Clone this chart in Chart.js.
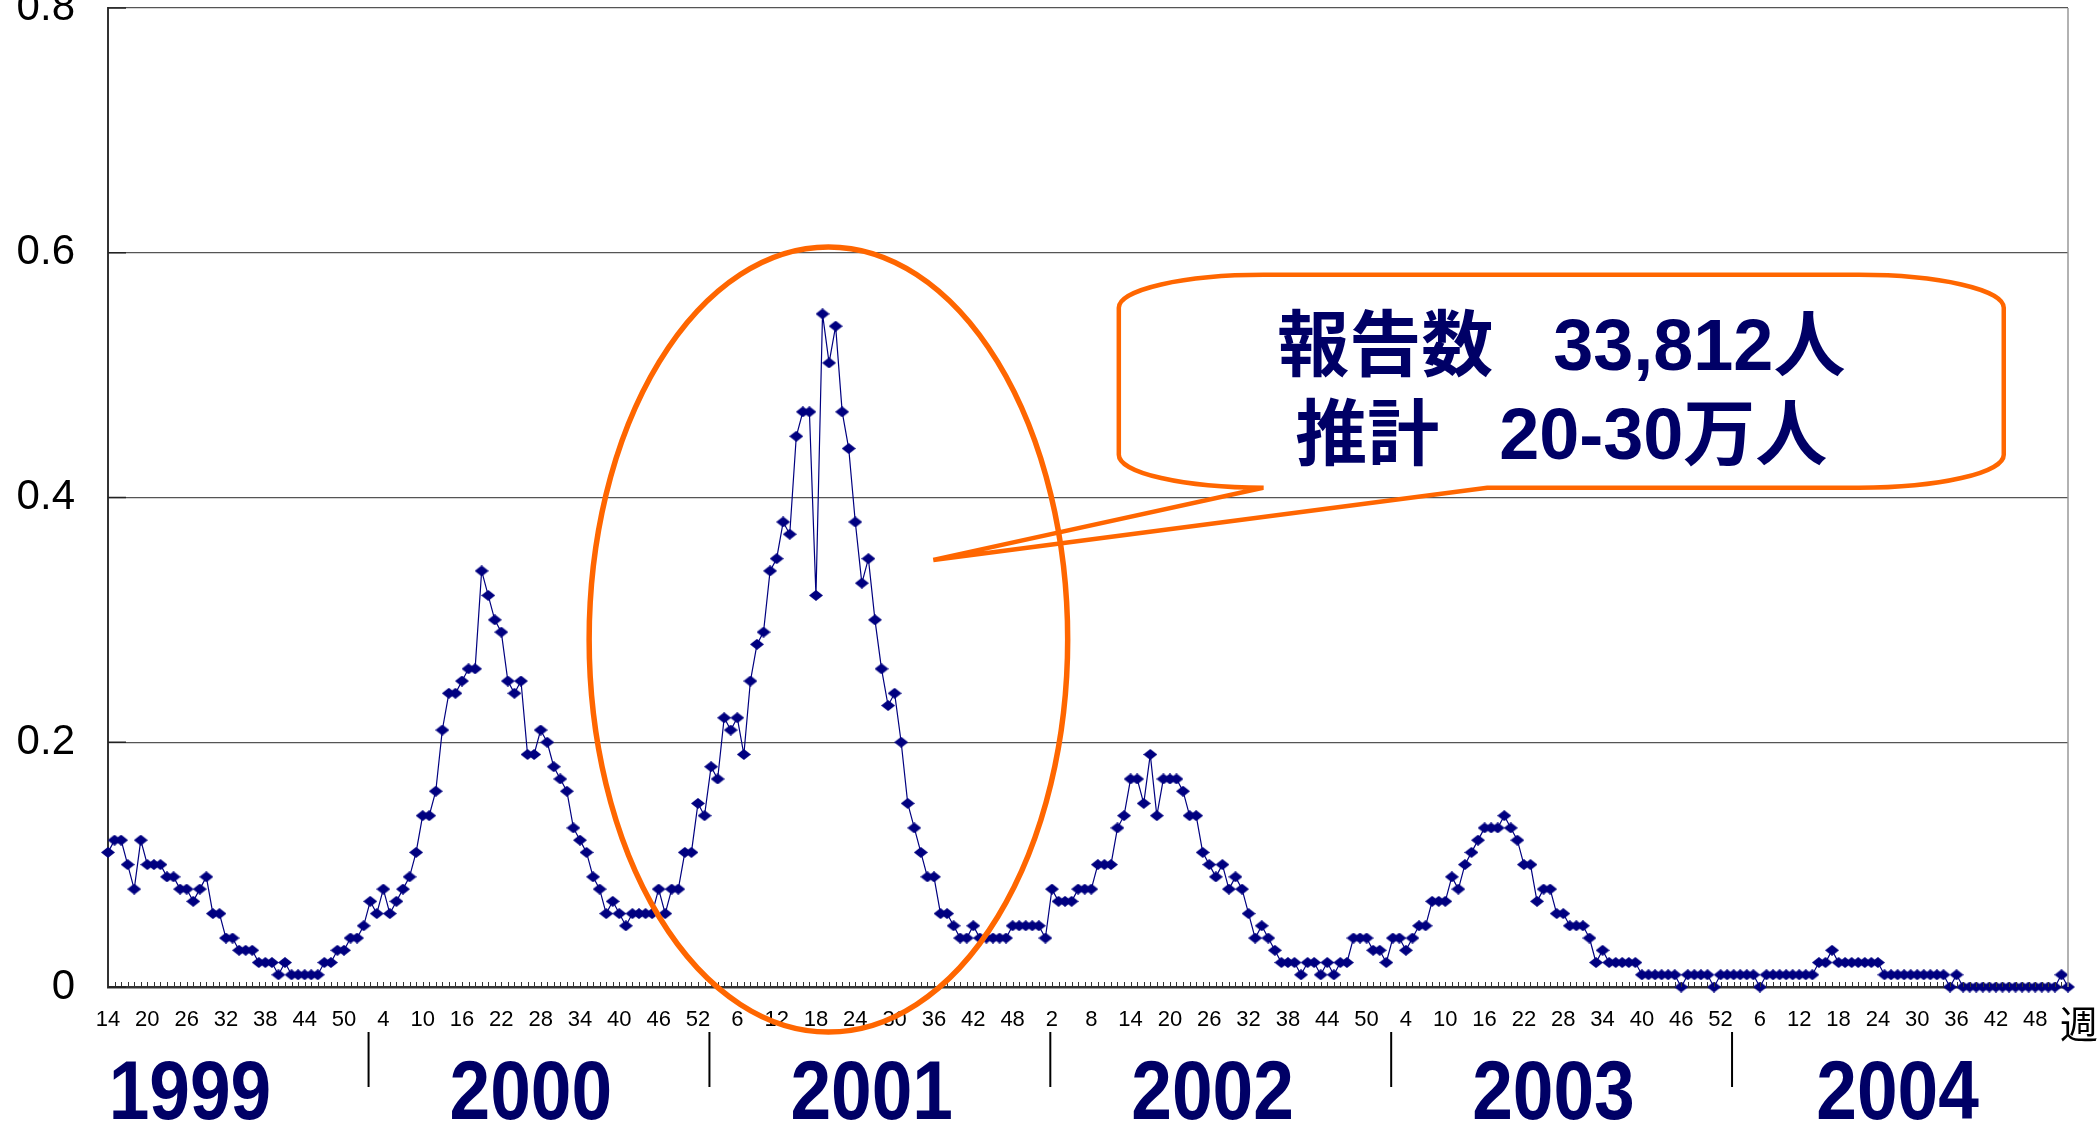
<!DOCTYPE html>
<html>
<head>
<meta charset="utf-8">
<title>週別報告数 1999-2004</title>
<script src="https://cdn.jsdelivr.net/npm/chart.js@4.4.0/dist/chart.umd.min.js"></script>
<style>
    html, body { margin: 0; padding: 0; background: #fff; }
    #wrap { position: relative; width: 2099px; height: 1122px; }
</style>
</head>
<body>
<div id="wrap"><canvas id="line-chart"></canvas></div>
<script>
// weeks covered in each year
var years = [1999, 2000, 2001, 2002, 2003, 2004];
var firstWeek = [14, 1, 1, 1, 1, 1];
var lastWeek = [52, 52, 52, 52, 52, 53];

// weekly values, one array per year
var v1999 = [0.11,0.12,0.12,0.10,0.08,0.12,0.10,0.10,0.10,0.09,
             0.09,0.08,0.08,0.07,0.08,0.09,0.06,0.06,0.04,0.04,
             0.03,0.03,0.03,0.02,0.02,0.02,0.01,0.02,0.01,0.01,
             0.01,0.01,0.01,0.02,0.02,0.03,0.03,0.04,0.04]
var v2000 = [0.05,0.07,0.06,0.08,0.06,0.07,0.08,0.09,0.11,0.14,
             0.14,0.16,0.21,0.24,0.24,0.25,0.26,0.26,0.34,0.32,
             0.30,0.29,0.25,0.24,0.25,0.19,0.19,0.21,0.20,0.18,
             0.17,0.16,0.13,0.12,0.11,0.09,0.08,0.06,0.07,0.06,
             0.05,0.06,0.06,0.06,0.06,0.08,0.06,0.08,0.08,0.11,
             0.11,0.15]
var v2001 = [0.14,0.18,0.17,0.22,0.21,0.22,0.19,0.25,0.28,0.29,
             0.34,0.35,0.38,0.37,0.45,0.47,0.47,0.32,0.55,0.51,
             0.54,0.47,0.44,0.38,0.33,0.35,0.30,0.26,0.23,0.24,
             0.20,0.15,0.13,0.11,0.09,0.09,0.06,0.06,0.05,0.04,
             0.04,0.05,0.04,0.04,0.04,0.04,0.04,0.05,0.05,0.05,
             0.05,0.05]
var v2002 = [0.04,0.08,0.07,0.07,0.07,0.08,0.08,0.08,0.10,0.10,
             0.10,0.13,0.14,0.17,0.17,0.15,0.19,0.14,0.17,0.17,
             0.17,0.16,0.14,0.14,0.11,0.10,0.09,0.10,0.08,0.09,
             0.08,0.06,0.04,0.05,0.04,0.03,0.02,0.02,0.02,0.01,
             0.02,0.02,0.01,0.02,0.01,0.02,0.02,0.04,0.04,0.04,
             0.03,0.03]
var v2003 = [0.02,0.04,0.04,0.03,0.04,0.05,0.05,0.07,0.07,0.07,
             0.09,0.08,0.10,0.11,0.12,0.13,0.13,0.13,0.14,0.13,
             0.12,0.10,0.10,0.07,0.08,0.08,0.06,0.06,0.05,0.05,
             0.05,0.04,0.02,0.03,0.02,0.02,0.02,0.02,0.02,0.01,
             0.01,0.01,0.01,0.01,0.01,0.00,0.01,0.01,0.01,0.01,
             0.00,0.01]
var v2004 = [0.01,0.01,0.01,0.01,0.01,0.00,0.01,0.01,0.01,0.01,
             0.01,0.01,0.01,0.01,0.02,0.02,0.03,0.02,0.02,0.02,
             0.02,0.02,0.02,0.02,0.01,0.01,0.01,0.01,0.01,0.01,
             0.01,0.01,0.01,0.01,0.00,0.01,0.00,0.00,0.00,0.00,
             0.00,0.00,0.00,0.00,0.00,0.00,0.00,0.00,0.00,0.00,
             0.00,0.01,0.00]

var yTicks = [0, 0.2, 0.4, 0.6, 0.8]
var weekUnit = '週'
var calloutLines = ['報告数   33,812人', '推計   20-30万人']

var values = v1999.concat(v2000, v2001, v2002, v2003, v2004)
var weeks = []
for (var k = 0; k < years.length; k++) {
    for (var w = firstWeek[k]; w <= lastWeek[k]; w++) {
        weeks.push(String(w))
    }
}

var navy = '#000080'
var orange = '#FF6600'
var textNavy = '#000066'

function makeDiamond(w, h, color) {
    var c = document.createElement('canvas')
    c.width = w
    c.height = h
    var g = c.getContext('2d')
    g.fillStyle = color
    g.beginPath()
    g.moveTo(w / 2, 0)
    g.lineTo(w, h / 2)
    g.lineTo(w / 2, h)
    g.lineTo(0, h / 2)
    g.closePath()
    g.fill()
    return c
}

var overlay = {
    id: 'overlay',
    afterDraw: function(chart) {
        var ctx = chart.ctx
        var x = chart.scales.x
        var y = chart.scales.y
        var area = chart.chartArea
        var step = x.getPixelForValue(1) - x.getPixelForValue(0)
        var X = function(i) { return x.getPixelForValue(i) }
        var Y = function(v) { return y.getPixelForValue(v) }

        ctx.save()

        // small tick marks inside the x axis, one per week
        ctx.strokeStyle = '#333'
        ctx.lineWidth = 1
        for (var i = 0; i < weeks.length; i++) {
            var px = Math.round(X(i)) + 0.5
            ctx.beginPath()
            ctx.moveTo(px, area.bottom)
            ctx.lineTo(px, area.bottom - 5)
            ctx.stroke()
        }
        // major ticks inside the y axis
        ctx.strokeStyle = '#222'
        ctx.lineWidth = 1.5
        yTicks.forEach(function(v) {
            ctx.beginPath()
            ctx.moveTo(area.left, Y(v))
            ctx.lineTo(area.left + 18, Y(v))
            ctx.stroke()
        })
        // right border
        ctx.strokeStyle = '#999'
        ctx.lineWidth = 1.5
        ctx.beginPath()
        ctx.moveTo(area.right, area.top)
        ctx.lineTo(area.right, area.bottom)
        ctx.stroke()

        // year separators and year labels
        var start = 0
        for (var k = 0; k < years.length; k++) {
            var n = lastWeek[k] - firstWeek[k] + 1
            if (k > 0) {
                var sx = X(start + 0.75)
                ctx.strokeStyle = '#000'
                ctx.lineWidth = 2
                ctx.beginPath()
                ctx.moveTo(sx, area.bottom + 45)
                ctx.lineTo(sx, area.bottom + 100)
                ctx.stroke()
            }
            var weekOne = start - (firstWeek[k] - 1)
            var mid = X(weekOne + (lastWeek[k] - 1) / 2)
            ctx.save()
            ctx.fillStyle = textNavy
            ctx.font = 'bold 84px "Liberation Sans", Arial, sans-serif'
            ctx.textAlign = 'center'
            ctx.textBaseline = 'alphabetic'
            ctx.translate(mid, area.bottom + 132)
            ctx.scale(0.87, 1)
            ctx.fillText(String(years[k]), 0, 0)
            ctx.restore()
            start += n
        }

        // unit label at the end of the axis
        ctx.fillStyle = '#000'
        ctx.font = '38px "Noto Sans CJK JP", sans-serif'
        ctx.textAlign = 'center'
        ctx.textBaseline = 'middle'
        ctx.fillText(weekUnit, area.right + 11, area.bottom + 37)

        // callout box with pointer
        var l = X(154.2), r = X(289.2), t = Y(0.582), b = Y(0.408)
        var rx = 22.1 * step, ry = Y(0) - Y(0.027)
        var baseL = X(176.2), baseR = X(210.4)
        var tipX = X(125.9), tipY = Y(0.349)

        ctx.beginPath()
        ctx.moveTo(l + rx, t)
        ctx.lineTo(r - rx, t)
        ctx.ellipse(r - rx, t + ry, rx, ry, 0, -Math.PI / 2, 0)
        ctx.lineTo(r, b - ry)
        ctx.ellipse(r - rx, b - ry, rx, ry, 0, 0, Math.PI / 2)
        ctx.lineTo(l + rx, b)
        ctx.ellipse(l + rx, b - ry, rx, ry, 0, Math.PI / 2, Math.PI)
        ctx.lineTo(l, t + ry)
        ctx.ellipse(l + rx, t + ry, rx, ry, 0, Math.PI, Math.PI * 1.5)
        ctx.closePath()
        ctx.fillStyle = '#fff'
        ctx.fill()

        ctx.beginPath()
        ctx.moveTo(l + rx, t)
        ctx.lineTo(r - rx, t)
        ctx.ellipse(r - rx, t + ry, rx, ry, 0, -Math.PI / 2, 0)
        ctx.lineTo(r, b - ry)
        ctx.ellipse(r - rx, b - ry, rx, ry, 0, 0, Math.PI / 2)
        ctx.lineTo(baseR, b)
        ctx.lineTo(tipX, tipY)
        ctx.lineTo(baseL, b)
        ctx.lineTo(l + rx, b)
        ctx.ellipse(l + rx, b - ry, rx, ry, 0, Math.PI / 2, Math.PI)
        ctx.lineTo(l, t + ry)
        ctx.ellipse(l + rx, t + ry, rx, ry, 0, Math.PI, Math.PI * 1.5)
        ctx.closePath()
        ctx.strokeStyle = orange
        ctx.lineWidth = 4.5
        ctx.stroke()

        ctx.fillStyle = textNavy
        ctx.font = 'bold 72px "Liberation Sans", "Noto Sans CJK JP", sans-serif'
        ctx.textAlign = 'center'
        ctx.textBaseline = 'alphabetic'
        ctx.fillText(calloutLines[0], (l + r) / 2, t + 95)
        ctx.fillText(calloutLines[1], (l + r) / 2, t + 184)

        // ellipse around the 2001 peak
        ctx.strokeStyle = orange
        ctx.lineWidth = 5.5
        ctx.beginPath()
        ctx.ellipse(X(109.9), Y(0.284), 36.5 * step, Y(0) - Y(0.3208), 0, 0, Math.PI * 2)
        ctx.stroke()

        ctx.restore()
    }
}

new Chart(document.getElementById('line-chart'), {
    type: 'line',
    data: {
        labels: weeks,
        datasets: [{
            data: values,
            borderColor: navy,
            borderWidth: 1.2,
            pointStyle: makeDiamond(14, 11, navy),
            pointRadius: 6,
            pointBackgroundColor: navy,
            pointBorderColor: navy,
            tension: 0,
            fill: false,
            clip: false
        }]
    },
    options: {
        responsive: true,
        maintainAspectRatio: false,
        animation: false,
        layout: { padding: { top: 8, right: 31, bottom: 0, left: 0 } },
        plugins: {
            legend: { display: false },
            tooltip: { enabled: false }
        },
        scales: {
            x: {
                offset: false,
                grid: { display: false, drawTicks: false },
                border: { color: '#333', width: 2.5 },
                ticks: {
                    autoSkip: false,
                    maxRotation: 0,
                    minRotation: 0,
                    padding: 20,
                    color: '#000',
                    font: { family: '"Liberation Sans", Arial, sans-serif', size: 22 },
                    callback: function(val, idx) {
                        return idx % 6 === 0 ? this.getLabelForValue(val) : ''
                    }
                },
                afterFit: function(s) {
                    s.height = 135
                    s.paddingLeft = 0
                    s.paddingRight = 0
                }
            },
            y: {
                min: 0,
                max: 0.8,
                afterBuildTicks: function(s) {
                    s.ticks = yTicks.map(function(v) { return { value: v } })
                },
                grid: {
                    color: function(c) { return c.tick && c.tick.value === 0 ? 'rgba(0,0,0,0)' : '#555' },
                    lineWidth: 1.3,
                    drawTicks: false
                },
                border: { color: '#333', width: 2 },
                ticks: {
                    padding: 33,
                    color: '#000',
                    font: { family: '"Liberation Sans", Arial, sans-serif', size: 42 }
                },
                afterFit: function(s) {
                    s.width = 108
                    s.paddingTop = 0
                    s.paddingBottom = 0
                }
            }
        }
    },
    plugins: [overlay]
});
</script>
</body>
</html>
